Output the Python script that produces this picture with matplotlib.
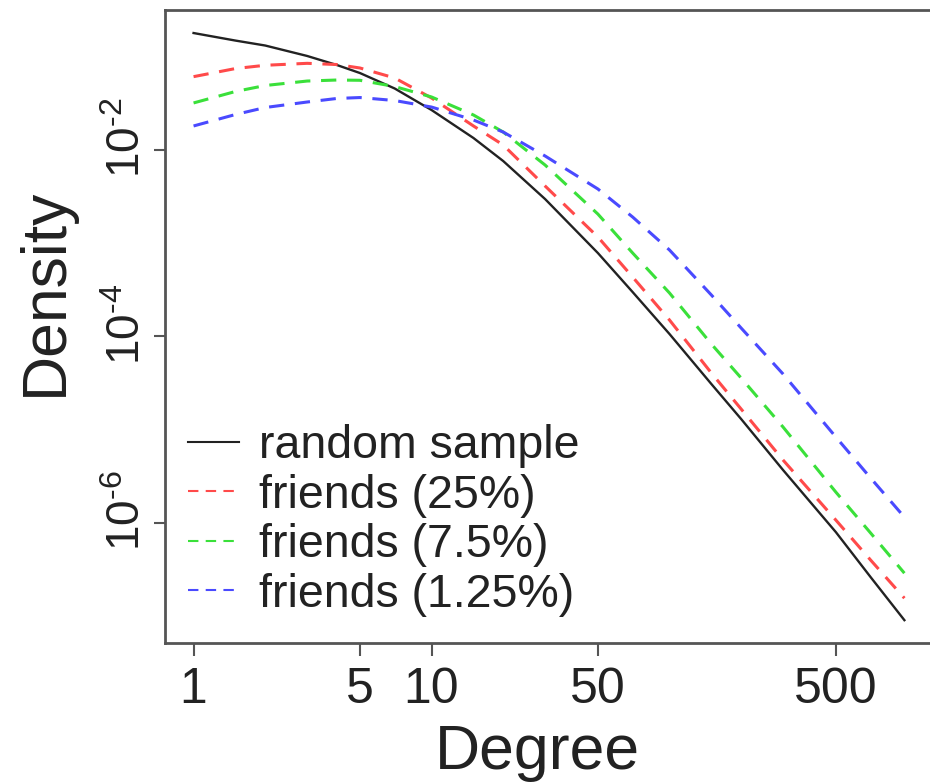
import numpy as np
import matplotlib
matplotlib.use("Agg")
import matplotlib.pyplot as plt
import matplotlib.transforms as mtransforms

# ---- data ----
degree = [1, 1.5, 2, 3, 4, 5, 7, 10, 15, 20, 30, 50, 70, 100, 150, 200, 300, 500, 700, 970]
random_log10 = [-0.745, -0.826, -0.879, -0.991, -1.088, -1.174, -1.340, -1.571, -1.871, -2.118,
                -2.526, -3.105, -3.524, -3.974, -4.511, -4.886, -5.433, -6.099, -6.582, -7.043]
friends25_log10 = [-1.213, -1.126, -1.091, -1.070, -1.083, -1.120, -1.227, -1.442, -1.742, -1.946,
                   -2.386, -2.933, -3.363, -3.824, -4.393, -4.779, -5.326, -5.970, -6.399, -6.807]
friends75_log10 = [-1.495, -1.372, -1.308, -1.260, -1.249, -1.252, -1.319, -1.431, -1.624, -1.807,
                   -2.161, -2.687, -3.105, -3.534, -4.082, -4.446, -4.972, -5.670, -6.109, -6.539]
friends125_log10 = [-1.742, -1.619, -1.544, -1.485, -1.447, -1.437, -1.469, -1.539, -1.678, -1.807,
                    -2.064, -2.418, -2.719, -3.073, -3.556, -3.910, -4.403, -5.079, -5.519, -5.938]
series_labels = ["random sample", "friends (25%)", "friends (7.5%)", "friends (1.25%)"]
x_ticks = [1, 5, 10, 50, 500]
x_ticklabels = ["1", "5", "10", "50", "500"]
y_ticks = [1e-2, 1e-4, 1e-6]
y_ticklabels = ["$10^{\u20102}$", "$10^{\u20104}$", "$10^{\u20106}$"]

plt.rcParams['font.family'] = ['Liberation Sans', 'DejaVu Sans']
plt.rcParams['mathtext.fontset'] = 'custom'
plt.rcParams['mathtext.rm'] = 'Liberation Sans'
plt.rcParams['mathtext.it'] = 'Liberation Sans'
plt.rcParams['mathtext.default'] = 'regular'

fig = plt.figure(figsize=(9.3, 7.84), dpi=100)
ax = fig.add_axes([165/930, 1-643/784, (933-165)/930, (643-10)/784])

deg = np.array(degree)
dash = (0, (5, 3.5))
styles = [
    dict(color='#222222', lw=1.7, ls='-'),
    dict(color='#ff4a4a', lw=2.2, ls=dash),
    dict(color='#3ae03a', lw=2.2, ls=dash),
    dict(color='#4a4aff', lw=2.2, ls=dash),
]
for vals, lab, st in zip([random_log10, friends25_log10, friends75_log10, friends125_log10],
                         series_labels, styles):
    ax.plot(deg, 10 ** np.array(vals), label=lab, **st)

ax.set_xscale('log')
ax.set_yscale('log')
ax.set_xlim(10 ** -0.12, 10 ** 3.107)
ax.set_ylim(10 ** -7.288, 10 ** -0.498)
ax.minorticks_off()
ax.set_xticks(x_ticks)
ax.set_xticklabels(x_ticklabels)
ax.set_yticks(y_ticks)
ax.set_yticklabels(y_ticklabels, rotation=90, va='center')
ax.tick_params(axis='x', labelsize=36, length=9, width=1.5, color='#555555', pad=8, labelcolor='#222222')
ax.tick_params(axis='y', labelsize=33, length=8, width=1.5, color='#555555', pad=3, labelcolor='#222222')
shift = mtransforms.ScaledTranslation(0, 0.12, fig.dpi_scale_trans)
for lbl in ax.get_yticklabels():
    lbl.set_transform(lbl.get_transform() + shift)
for s in ax.spines.values():
    s.set_color('#555555')
    s.set_linewidth(2)

ax.set_xlabel("Degree", fontsize=45, color='#222222')
ax.xaxis.set_label_coords((537-165)/768, -0.127)
ax.xaxis.label.set_va('top')
ax.set_ylabel("Density", fontsize=45, color='#222222')
ax.yaxis.set_label_coords((75-165)/768, (643-292)/633)

leg = ax.legend(loc='upper left', bbox_to_anchor=(188/930, 1-424/784), bbox_transform=fig.transFigure,
                frameon=False, fontsize=33.5, handlelength=1.1, handletextpad=0.42,
                labelspacing=0.12, borderpad=0, borderaxespad=0)
for t in leg.get_texts():
    t.set_color('#222222')
for h in leg.get_lines():
    h.set_linewidth(1.5)

fig.savefig("out.png", dpi=100)
